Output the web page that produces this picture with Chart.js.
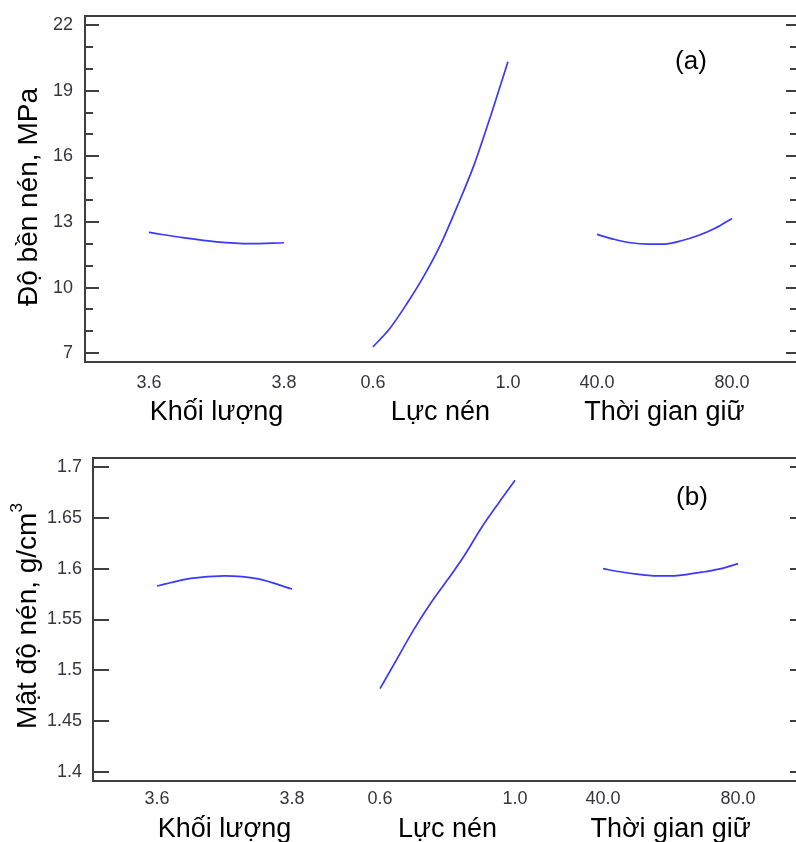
<!DOCTYPE html>
<html lang="vi">
<head>
<meta charset="utf-8">
<title>Độ bền nén và mật độ nén</title>
<script src="https://cdn.jsdelivr.net/npm/chart.js@4.4.1/dist/chart.umd.min.js"></script>
<style>
  html, body { margin: 0; padding: 0; background: #fff; overflow: hidden; }
  #wrap { position: relative; width: 796px; height: 842px; }
  canvas { position: absolute; left: 0; }
  #chartA { top: 0; }
  #chartB { top: 440px; }
</style>
</head>
<body>
<div id="wrap">
  <canvas id="chartA" width="796" height="440"></canvas>
  <canvas id="chartB" width="796" height="402"></canvas>
</div>
<script>
// --- data ---
const factorNames = ['Khối lượng', 'Lực nén', 'Thời gian giữ'];
const factorRanges = [[3.6, 3.8], [0.6, 1.0], [40, 80]];
const massLevels = [3.6, 3.65, 3.7, 3.75, 3.8];
const forceLevels = [0.6, 0.65, 0.7, 0.75, 0.8, 0.85, 0.9, 0.95, 1.0];
const timeLevels = [40, 45, 50, 55, 60, 65, 70, 75, 80];
const xTickLabels = ['3.6', '3.8', '0.6', '1.0', '40.0', '80.0'];

// (a) Độ bền nén, MPa
const strengthMass = [12.52, 12.28, 12.09, 12.01, 12.05];
const strengthForce = [7.29, 8.13, 9.25, 10.50, 11.95, 13.72, 15.62, 17.90, 20.32];
const strengthTime = [12.43, 12.21, 12.05, 11.99, 11.99, 12.14, 12.38, 12.71, 13.16];
const strengthTicks = [7, 10, 13, 16, 19, 22];
const strengthMinorTicks = [8, 9, 11, 12, 14, 15, 17, 18, 20, 21];

// (b) Mật độ nén, g/cm3
const densityMass = [1.583, 1.5905, 1.593, 1.590, 1.580];
const densityForce = [1.482, 1.511, 1.540, 1.566, 1.589, 1.613, 1.640, 1.664, 1.687];
const densityTime = [1.600, 1.597, 1.5947, 1.593, 1.593, 1.5944, 1.597, 1.600, 1.605];
const densityTicks = [1.4, 1.45, 1.5, 1.55, 1.6, 1.65, 1.7];

const LINE_BLUE = '#3838ff';
const FRAME = '#3f3f3f';
const TICK_TEXT = '#34343f';
const FONT = "'Liberation Sans', Arial, sans-serif";

// each factor gets its own stretch of one shared x axis (1 unit wide)
function toAxis(segStart, k, level) {
  const [lo, hi] = factorRanges[k];
  return segStart[k] + (level - lo) / (hi - lo);
}

function makeSeries(segStart, k, levels, values) {
  return {
    data: levels.map((lv, i) => ({ x: toAxis(segStart, k, lv), y: values[i] })),
    borderColor: LINE_BLUE,
    borderWidth: 1.7,
    pointRadius: 0,
    cubicInterpolationMode: 'monotone',
    fill: false
  };
}

// frame, inward tick marks, titles and panel letter
const decorPlugin = {
  id: 'decor',
  afterDraw(chart, args, o) {
    const { ctx, chartArea: a, scales: { x, y } } = chart;
    ctx.save();
    ctx.strokeStyle = FRAME;
    ctx.lineWidth = 2;
    ctx.beginPath();
    ctx.moveTo(a.right + 2, a.top);
    ctx.lineTo(a.left, a.top);
    ctx.lineTo(a.left, a.bottom);
    ctx.lineTo(a.right + 2, a.bottom);
    ctx.stroke();

    ctx.beginPath();
    o.major.forEach(v => {
      const py = Math.round(y.getPixelForValue(v));
      ctx.moveTo(a.left, py); ctx.lineTo(a.left + o.majorLen, py);
      ctx.moveTo(a.right - o.rightMajor, py); ctx.lineTo(a.right, py);
    });
    (o.minor || []).forEach(v => {
      const py = Math.round(y.getPixelForValue(v));
      ctx.moveTo(a.left, py); ctx.lineTo(a.left + o.minorLen, py);
      ctx.moveTo(a.right - o.rightMinor, py); ctx.lineTo(a.right, py);
    });
    ctx.stroke();

    // factor names under each stretch
    ctx.fillStyle = '#000';
    ctx.font = '27px ' + FONT;
    ctx.textAlign = 'center';
    ctx.textBaseline = 'alphabetic';
    factorNames.forEach((name, k) => {
      ctx.fillText(name, x.getPixelForValue(o.segStart[k] + 0.5), a.bottom + o.titleDrop);
    });

    // panel letter
    ctx.font = '26px ' + FONT;
    ctx.textBaseline = 'middle';
    ctx.fillText(o.letter, o.letterPos[0], o.letterPos[1]);

    // y title, rotated, with optional superscript
    ctx.translate(o.yTitlePos[0], o.yTitlePos[1]);
    ctx.rotate(-Math.PI / 2);
    ctx.textBaseline = 'alphabetic';
    ctx.textAlign = 'left';
    ctx.font = '28px ' + FONT;
    const w1 = ctx.measureText(o.yTitle).width;
    ctx.font = '17px ' + FONT;
    const w2 = o.yTitleSup ? ctx.measureText(o.yTitleSup).width : 0;
    const x0 = -(w1 + w2) / 2;
    ctx.font = '28px ' + FONT;
    ctx.fillText(o.yTitle, x0, 0);
    if (o.yTitleSup) {
      ctx.font = '17px ' + FONT;
      ctx.fillText(o.yTitleSup, x0 + w1, -14);
    }
    ctx.restore();
  }
};

function buildChart(id, p) {
  const xTickValues = [];
  p.segStart.forEach(s => { xTickValues.push(s, s + 1); });

  return new Chart(document.getElementById(id), {
    type: 'line',
    data: {
      datasets: [
        makeSeries(p.segStart, 0, massLevels, p.mass),
        makeSeries(p.segStart, 1, forceLevels, p.force),
        makeSeries(p.segStart, 2, timeLevels, p.time)
      ]
    },
    options: {
      responsive: false,
      animation: false,
      devicePixelRatio: 1,
      layout: { padding: { left: 0, right: 0, top: p.top, bottom: 0 } },
      plugins: {
        legend: { display: false },
        tooltip: { enabled: false },
        decor: p.decor
      },
      scales: {
        x: {
          type: 'linear',
          min: 0,
          max: p.xMax,
          grid: { display: false, drawTicks: false },
          border: { display: false },
          afterBuildTicks: s => { s.ticks = xTickValues.map(v => ({ value: v })); },
          afterFit: s => { s.height = p.xHeight; s.paddingLeft = 0; s.paddingRight = 0; },
          ticks: {
            padding: p.xPad,
            autoSkip: false,
            maxRotation: 0,
            color: TICK_TEXT,
            font: { family: FONT, size: 18 },
            callback: (v, i) => xTickLabels[i]
          }
        },
        y: {
          type: 'linear',
          min: p.yMin,
          max: p.yMax,
          grid: { display: false, drawTicks: false },
          border: { display: false },
          afterBuildTicks: s => { s.ticks = p.yTicks.map(v => ({ value: v })); },
          afterFit: s => { s.width = p.yWidth; s.paddingTop = 0; s.paddingBottom = 0; },
          ticks: {
            padding: p.yPad,
            color: TICK_TEXT,
            font: { family: FONT, size: 18 },
            callback: v => String(v)
          }
        }
      }
    },
    plugins: [decorPlugin]
  });
}

const segA = [0.474, 2.133, 3.793];
const segB = [0.474, 2.126, 3.778];

buildChart('chartA', {
  segStart: segA, xMax: 5.267, top: 16, xHeight: 78, yWidth: 85,
  xPad: 10, yPad: 12, yMin: 6.6, yMax: 22.41, yTicks: strengthTicks,
  mass: strengthMass, force: strengthForce, time: strengthTime,
  decor: {
    segStart: segA, major: strengthTicks, minor: strengthMinorTicks,
    majorLen: 14, minorLen: 8, rightMajor: 10, rightMinor: 6,
    titleDrop: 58, letter: '(a)', letterPos: [691, 62],
    yTitle: 'Độ bền nén, MPa', yTitleSup: '', yTitlePos: [37, 197]
  }
});

buildChart('chartB', {
  segStart: segB, xMax: 5.207, top: 18, xHeight: 61, yWidth: 93,
  xPad: 7, yPad: 11, yMin: 1.3911, yMax: 1.7089, yTicks: densityTicks,
  mass: densityMass, force: densityForce, time: densityTime,
  decor: {
    segStart: segB, major: densityTicks, minor: [],
    majorLen: 16, minorLen: 0, rightMajor: 6, rightMinor: 0,
    titleDrop: 56, letter: '(b)', letterPos: [692, 58],
    yTitle: 'Mật độ nén, g/cm', yTitleSup: '3', yTitlePos: [36, 176]
  }
});
</script>
</body>
</html>
